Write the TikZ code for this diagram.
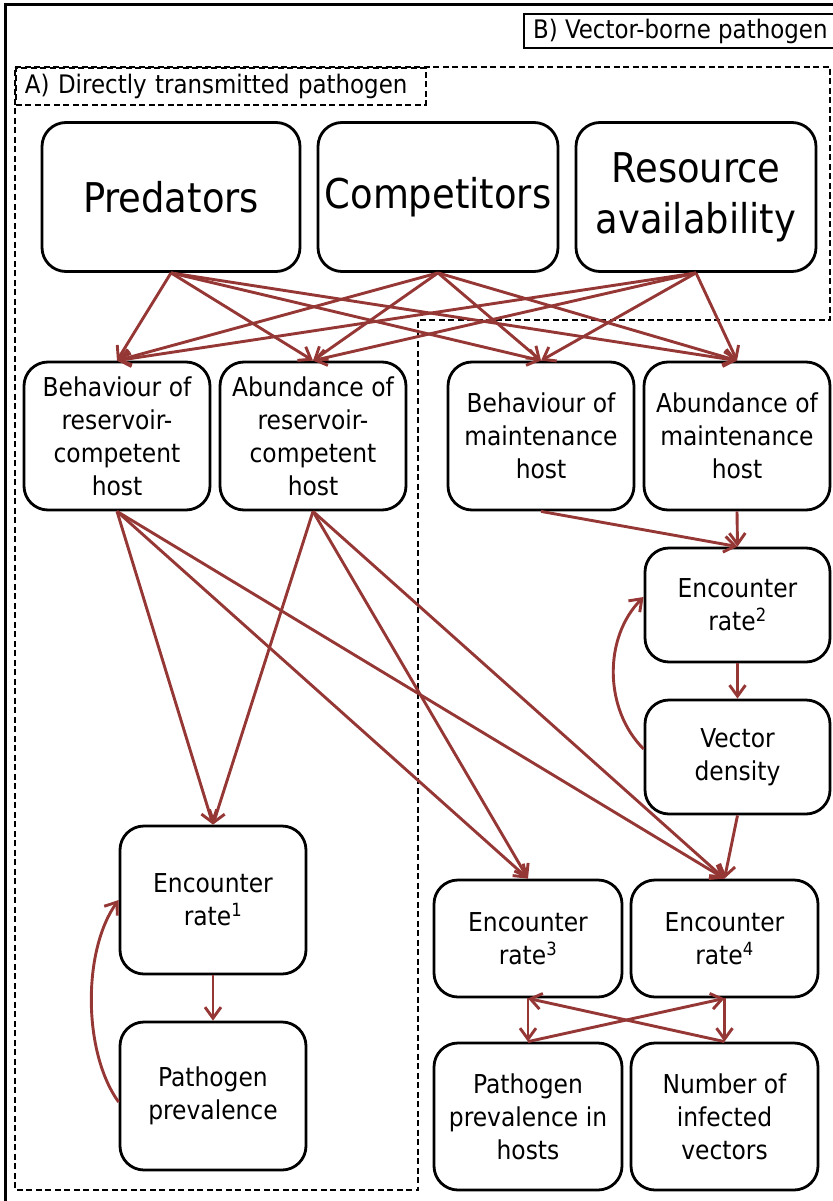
\documentclass[tikz,border=0pt]{standalone}
\usepackage{fontspec}
\setmainfont{DejaVu Sans Condensed}
\usepackage{xcolor}
\usepackage{tikz}
\usetikzlibrary{arrows.meta,positioning,calc}
\definecolor{linkred}{RGB}{149,55,53}

\begin{document}
\begin{tikzpicture}[x=1pt, y=-1pt,
  box/.style={draw, line width=2.8pt, rounded corners=24pt, align=center, inner sep=2pt},
  driver/.style={box, minimum height=149pt, font=\fontsize{41}{51}\selectfont},
  hostbox/.style={box, minimum width=186pt, minimum height=148pt, font=\fontsize{26}{33}\selectfont},
  link/.style={draw=linkred, line width=2.9pt, -{Straight Barb[length=11pt,width=16pt]}},
  panel/.style={dash pattern=on 6pt off 3.5pt, line width=1.9pt},
  tag/.style={anchor=north west, inner xsep=9pt, minimum height=37pt, font=\fontsize{25.5}{30}\selectfont}]
\useasboundingbox (0,0) rectangle (832,1201);

% Outer frame and panel labels
\draw[line width=3pt] (5,5) rectangle (860,1230);
\node[tag, draw, line width=2.2pt, minimum height=34pt] (labB) at (523,13) {B) Vector-borne pathogen};
\draw[panel] (15,67) -- (830,67) -- (830,320) -- (418,320) -- (418,1190) -- (15,1190) -- cycle;
\node[tag, draw, panel, minimum width=410pt, text width=392pt] (labA) at (15,67) {A) Directly transmitted pathogen};

% Top drivers
\node[driver, minimum width=258pt] (pred) at (171,197) {Predators};
\node[driver, minimum width=240pt] (comp) at (438,197) {Competitors};
\node[driver, minimum width=240pt] (res) at (696,197) {Resource\\availability};

% Host nodes
\node[hostbox] (brh) at (117,436) {Behaviour of\\reservoir-\\competent\\host};
\node[hostbox] (arh) at (313,436) {Abundance of\\reservoir-\\competent\\host};
\node[hostbox] (bmh) at (541,436) {Behaviour of\\maintenance\\host};
\node[hostbox] (amh) at (737,436) {Abundance of\\maintenance\\host};

% Directly transmitted side
\node[hostbox] (enc1) at (213,900) {Encounter\\rate\textsuperscript{1}};
\node[hostbox] (prev) at (213,1096) {Pathogen\\prevalence};

% Vector-borne side
\node[hostbox, minimum width=185pt, minimum height=114pt] (enc2) at (737.5,605) {Encounter\\rate\textsuperscript{2}};
\node[hostbox, minimum width=185pt, minimum height=114pt] (vecd) at (737.5,757) {Vector\\density};
\node[hostbox, minimum width=188pt, minimum height=117pt] (enc3) at (528,938.5) {Encounter\\rate\textsuperscript{3}};
\node[hostbox, minimum width=187pt, minimum height=117pt] (enc4) at (724.5,938.5) {Encounter\\rate\textsuperscript{4}};
\node[hostbox, minimum width=188pt, minimum height=147pt] (phost) at (528,1116.5) {Pathogen\\prevalence in\\hosts};
\node[hostbox, minimum width=187pt, minimum height=147pt] (ninf) at (724.5,1116.5) {Number of\\infected\\vectors};

% Drivers to hosts
\draw[link] (pred.south) -- (brh.north);
\draw[link] (pred.south) -- (arh.north);
\draw[link] (pred.south) -- (bmh.north);
\draw[link] (pred.south) -- (amh.north);
\draw[link] (comp.south) -- (brh.north);
\draw[link] (comp.south) -- (arh.north);
\draw[link] (comp.south) -- (bmh.north);
\draw[link] (comp.south) -- (amh.north);
\draw[link] (res.south) -- (brh.north);
\draw[link] (res.south) -- (arh.north);
\draw[link] (res.south) -- (bmh.north);
\draw[link] (res.south) -- (amh.north);

% Reservoir hosts to encounter rates
\draw[link] (brh.south) -- (enc1.north);
\draw[link] (arh.south) -- (enc1.north);
\draw[link] (brh.south) -- (enc3.north);
\draw[link] (arh.south) -- (enc3.north);
\draw[link] (brh.south) -- (enc4.north);
\draw[link] (arh.south) -- (enc4.north);

% Maintenance hosts and vectors
\draw[link] (bmh.south) -- (enc2.north);
\draw[link] (amh.south) -- (enc2.north);
\draw[link] (enc2.south) -- (vecd.north);
\draw[link] (vecd.south) -- (enc4.north);
\draw[link] ([yshift=8pt]vecd.west) .. controls +(-40,-40) and +(-40,40) .. ([yshift=8pt]enc2.west);

% Outcomes
\draw[link] (enc1.south) -- (prev.north);
\draw[link] ([yshift=-6pt]prev.west) .. controls +(-36,-50) and +(-36,50) .. (enc1.west);
\draw[link] (enc3.south) -- (phost.north);
\draw[link] (enc4.south) -- (ninf.north);
\draw[link] (ninf.north) -- (enc3.south);
\draw[link] (phost.north) -- (enc4.south);
\end{tikzpicture}
\end{document}
